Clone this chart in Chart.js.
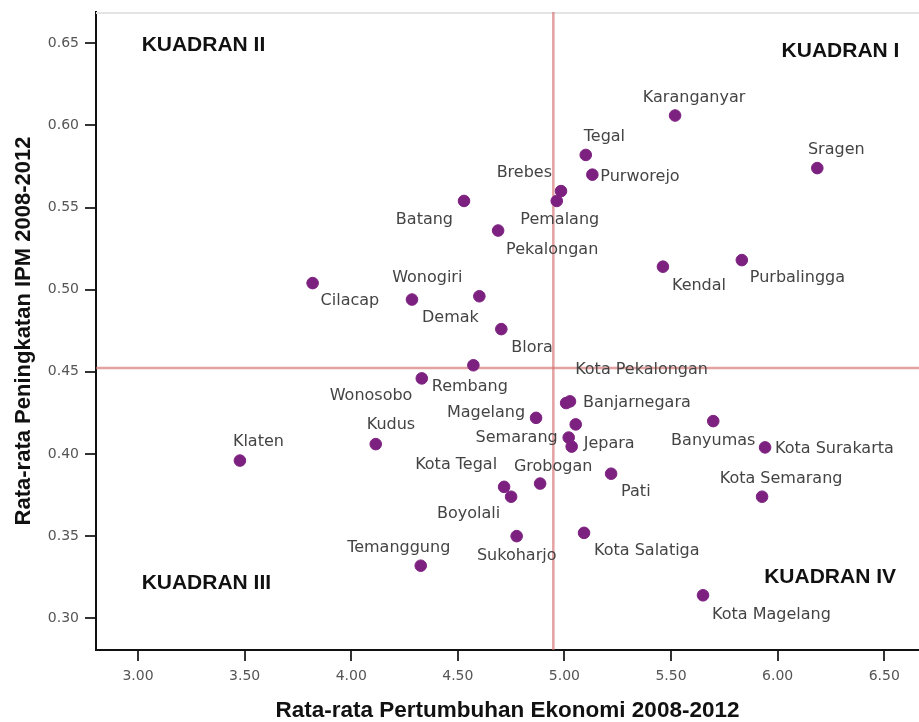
<!DOCTYPE html>
<html>
<head>
<meta charset="utf-8">
<script src="https://cdn.jsdelivr.net/npm/chart.js@4.4.1/dist/chart.umd.min.js"></script>
<style>
  html, body { margin: 0; padding: 0; background: #ffffff; }
  #wrap { width: 919px; height: 722px; }
</style>
</head>
<body>
<div id="wrap"><canvas id="c" width="919" height="722"></canvas></div>
<script>
// ---- data ----
const regions = [
  'Karanganyar','Tegal','Purworejo','Sragen','Brebes','Pemalang','Batang','Pekalongan',
  'Kendal','Purbalingga','Wonogiri','Cilacap','Demak','Blora','Wonosobo','Rembang',
  'Kota Pekalongan','Banjarnegara','Magelang','Kebumen','Semarang','Jepara','Banyumas',
  'Kota Surakarta','Kota Semarang','Pati','Grobogan','Kota Tegal','Boyolali','Sukoharjo',
  'Kota Salatiga','Kota Magelang','Klaten','Kudus','Temanggung'
];
const growth = [
  5.519, 5.100, 5.131, 6.186, 4.984, 4.964, 4.529, 4.689,
  5.462, 5.832, 4.601, 3.819, 4.285, 4.704, 4.573, 4.331,
  5.008, 5.026, 4.867, 5.053, 5.020, 5.034, 5.698,
  5.941, 5.927, 5.219, 4.886, 4.717, 4.750, 4.776,
  5.092, 5.650, 3.478, 4.115, 4.326
];
const ipmGain = [
  0.606, 0.582, 0.570, 0.574, 0.560, 0.554, 0.554, 0.536,
  0.514, 0.518, 0.496, 0.504, 0.494, 0.476, 0.454, 0.446,
  0.431, 0.432, 0.422, 0.418, 0.410, 0.4045, 0.420,
  0.404, 0.374, 0.388, 0.382, 0.380, 0.374, 0.350,
  0.352, 0.314, 0.396, 0.406, 0.332
];
const meanGrowth = 4.948;
const meanIpm = 0.4524;
const xTickValues = [3.0, 3.5, 4.0, 4.5, 5.0, 5.5, 6.0, 6.5];
const yTickValues = [0.30, 0.35, 0.40, 0.45, 0.50, 0.55, 0.60, 0.65];
const quadrantNames = ['KUADRAN I', 'KUADRAN II', 'KUADRAN III', 'KUADRAN IV'];
const xTitle = 'Rata-rata Pertumbuhan Ekonomi 2008-2012';
const yTitle = 'Rata-rata Peningkatan IPM 2008-2012';

// ---- layout / style (not data) ----
const X_MIN = 2.803, X_MAX = 6.663, Y_MIN = 0.2807, Y_MAX = 0.669;
// label offsets in px from point centre: [dx, dy, align]
const labelPlacement = [
  [19,-18,'center'],[-2,-18,'left'],[8,2,'left'],[19,-18,'center'],[-9,-18,'right'],
  [3,19,'center'],[-11,19,'right'],[8,19,'left'],[9,19,'left'],[8,18,'left'],
  [-17,-18,'right'],[8,18,'left'],[10,18,'left'],[10,19,'left'],[-61,31,'right'],
  [10,8,'left'],[9,-33,'left'],[13,1,'left'],[-11,-5,'right'],null,
  [-11,0,'right'],[12,-3,'left'],[0,20,'center'],[10,1,'left'],[19,-18,'center'],
  [10,18,'left'],[13,-17,'center'],[-7,-22,'right'],[-11,17,'right'],[0,20,'center'],
  [10,18,'left'],[9,20,'left'],[-7,-19,'left'],[-9,-19,'left'],[-22,-18,'center']
];
// quadrant label anchors in data coordinates: [x, y, align]
const quadrantAnchors = [
  [6.571, 0.6451, 'right'], [3.017, 0.6488, 'left'],
  [3.017, 0.3213, 'left'], [6.555, 0.3253, 'right']
];

const points = growth.map((g, i) => ({ x: g, y: ipmGain[i] }));

const labelPlugin = {
  id: 'pointLabels',
  beforeDatasetsDraw(chart) {
    const { ctx, chartArea } = chart;
    ctx.save();
    ctx.strokeStyle = '#e4e4e4';
    ctx.lineWidth = 2;
    ctx.beginPath();
    ctx.moveTo(chartArea.left, chartArea.top + 1);
    ctx.lineTo(chartArea.right, chartArea.top + 1);
    ctx.stroke();
    ctx.restore();
  },
  afterDatasetsDraw(chart) {
    const { ctx } = chart;
    const meta = chart.getDatasetMeta(2);
    ctx.save();
    ctx.font = '16px "DejaVu Sans"';
    ctx.fillStyle = '#444444';
    ctx.textBaseline = 'middle';
    meta.data.forEach((el, i) => {
      const p = labelPlacement[i];
      if (!p) return;
      ctx.textAlign = p[2];
      ctx.fillText(regions[i], el.x + p[0], el.y + p[1]);
    });
    ctx.font = 'bold 21px "Liberation Sans", Arial, sans-serif';
    ctx.fillStyle = '#111111';
    const xs = chart.scales.x, ys = chart.scales.y;
    quadrantNames.forEach((q, i) => {
      const a = quadrantAnchors[i];
      ctx.textAlign = a[2];
      ctx.fillText(q, xs.getPixelForValue(a[0]), ys.getPixelForValue(a[1]));
    });
    ctx.restore();
  }
};

const refColor = 'rgba(214, 110, 110, 0.65)';

new Chart(document.getElementById('c'), {
  type: 'scatter',
  data: {
    datasets: [
      {
        type: 'line', label: 'meanIpm',
        data: [{ x: X_MIN, y: meanIpm }, { x: X_MAX, y: meanIpm }],
        borderColor: refColor, borderWidth: 2.5, pointRadius: 0, order: 2
      },
      {
        type: 'line', label: 'meanGrowth',
        data: [{ x: meanGrowth, y: Y_MIN }, { x: meanGrowth, y: Y_MAX }],
        borderColor: refColor, borderWidth: 2.5, pointRadius: 0, order: 2
      },
      {
        label: 'Kabupaten/Kota',
        data: points,
        backgroundColor: '#7d2181',
        borderColor: '#7d2181',
        pointRadius: 5.8,
        pointHoverRadius: 5.8,
        order: 0
      }
    ]
  },
  options: {
    responsive: false,
    animation: false,
    devicePixelRatio: 1,
    layout: { autoPadding: false, padding: { top: 12, left: 0, right: 0, bottom: 0 } },
    plugins: { legend: { display: false }, tooltip: { enabled: false } },
    scales: {
      x: {
        type: 'linear', min: X_MIN, max: X_MAX,
        afterBuildTicks(s) { s.ticks = xTickValues.map(v => ({ value: v })); },
        afterFit(s) { s.height = 72; s.paddingLeft = 0; s.paddingRight = 0; },
        grid: { drawOnChartArea: false, drawTicks: true, tickLength: 11, color: '#333333', lineWidth: 2 },
        border: { display: true, color: '#111111', width: 2 },
        ticks: {
          padding: 7, color: '#555555',
          font: { family: '"DejaVu Sans"', size: 14 },
          callback: v => Number(v).toFixed(2)
        },
        title: {
          display: true, text: xTitle, color: '#111111',
          font: { family: '"Liberation Sans", Arial, sans-serif', size: 22.5, weight: 'bold', lineHeight: 1 },
          padding: { top: 0, bottom: 0 }
        }
      },
      y: {
        type: 'linear', min: Y_MIN, max: Y_MAX,
        afterBuildTicks(s) { s.ticks = yTickValues.map(v => ({ value: v })); },
        afterFit(s) { s.width = 96; s.paddingTop = 0; s.paddingBottom = 0; },
        grid: { drawOnChartArea: false, drawTicks: true, tickLength: 11, color: '#333333', lineWidth: 2 },
        border: { display: true, color: '#111111', width: 2 },
        ticks: {
          padding: 6, color: '#555555',
          font: { family: '"DejaVu Sans"', size: 14 },
          callback: v => Number(v).toFixed(2)
        },
        title: {
          display: true, text: yTitle, color: '#111111',
          font: { family: '"Liberation Sans", Arial, sans-serif', size: 22, weight: 'bold', lineHeight: 1 },
          padding: { top: 13, bottom: 0 }
        }
      }
    }
  },
  plugins: [labelPlugin]
});
</script>
</body>
</html>
